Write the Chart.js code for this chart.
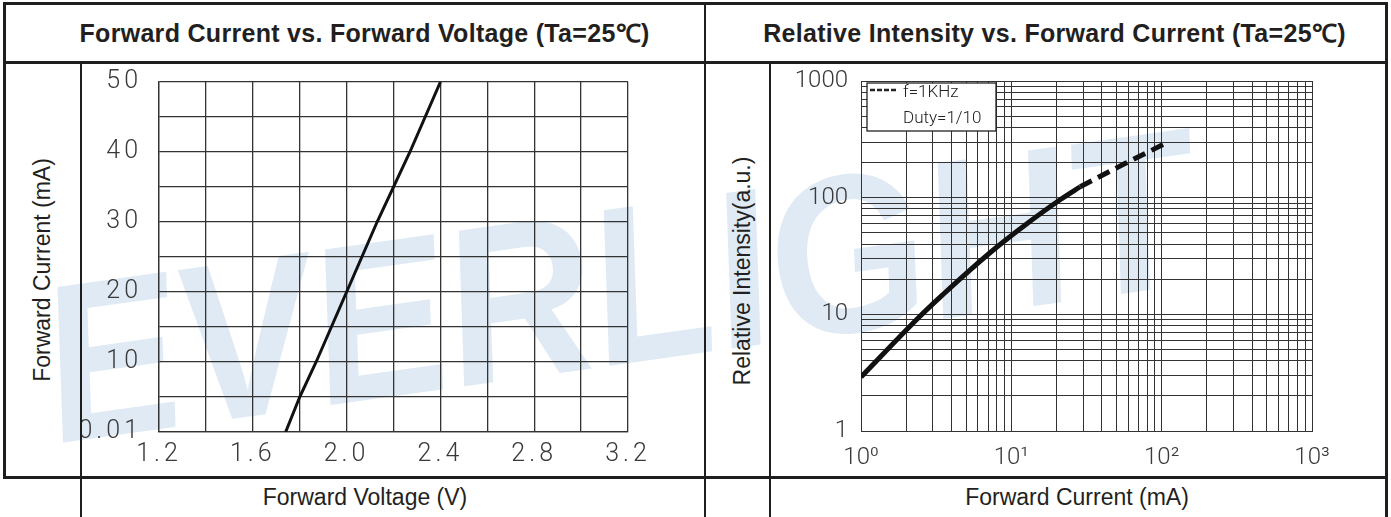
<!DOCTYPE html>
<html>
<head>
<meta charset="utf-8">
<script src="https://cdn.jsdelivr.net/npm/chart.js"></script>
<style>
html, body { margin: 0; padding: 0; background: #fff; }
body { width: 1391px; height: 517px; position: relative; overflow: hidden; font-family: "Liberation Sans", Arial, sans-serif; color: #231f20; }
.ln { position: absolute; background: #1e1e1e; }
.t { position: absolute; white-space: nowrap; }
.title { font-weight: bold; font-size: 25px; line-height: 25px; letter-spacing: 0.3px; top: 21px; text-align: center; }
.axis { font-size: 23px; }
.rot { transform: translate(-50%, -50%) rotate(-90deg); }
#wm { position: absolute; left: 60px; top: 250px; font: italic bold 225px "Liberation Sans", Arial, sans-serif; line-height: 230px; color: #dfeaf5; white-space: nowrap; transform-origin: 0px 195px; transform: rotate(-8deg) skewX(4deg) scaleX(0.9); }
canvas { position: absolute; }
</style>
</head>
<body>
<div id="wm">EVERLIGHT</div>

<div class="ln" style="left:3px;top:2px;width:1385px;height:3px"></div>
<div class="ln" style="left:3px;top:61px;width:1385px;height:3px"></div>
<div class="ln" style="left:3px;top:476px;width:1385px;height:3px"></div>
<div class="ln" style="left:3px;top:2px;width:3px;height:477px"></div>
<div class="ln" style="left:80px;top:63px;width:2px;height:454px"></div>
<div class="ln" style="left:704px;top:2px;width:2px;height:515px"></div>
<div class="ln" style="left:769px;top:63px;width:2px;height:454px"></div>
<div class="ln" style="left:1385px;top:2px;width:3px;height:515px"></div>

<div class="t title" style="left:24px;width:681px">Forward Current vs. Forward Voltage (Ta=25℃)</div>
<div class="t title" style="left:724px;width:661px">Relative Intensity vs. Forward Current (Ta=25℃)</div>
<div class="t axis rot" style="left:42px;top:270px">Forward Current (mA)</div>
<div class="t axis rot" style="left:742px;top:271px">Relative Intensity(a.u.)</div>
<div class="t axis" style="left:82px;width:566px;top:484px;text-align:center">Forward Voltage (V)</div>
<div class="t axis" style="left:771px;width:612px;top:484px;text-align:center">Forward Current (mA)</div>

<canvas id="vfChart" width="623" height="412" style="left:82px;top:64px"></canvas>
<canvas id="ivChart" width="614" height="412" style="left:771px;top:64px"></canvas>

<script>
// Forward Current vs. Forward Voltage
const vfVolts = [1.74, 1.80, 1.87, 2.00, 2.13, 2.27, 2.40];
const vfCurrent = [0, 5, 10, 20, 30, 40, 50];
const vfXTicks = [1.2, 1.6, 2.0, 2.4, 2.8, 3.2];
const vfXLabels = ['1.2', '1.6', '2.0', '2.4', '2.8', '3.2'];
const vfYTicks = [0, 10, 20, 30, 40, 50];
const vfYLabels = ['0.01', '10', '20', '30', '40', '50'];

// Relative Intensity vs. Forward Current
const ivCurrent = [1, 2.42, 3.51, 5.33, 8.02, 12.0, 21.1, 28.7];
const ivIntensity = [2.9, 9.4, 14.8, 24.1, 37.8, 56.7, 96, 124];
const ivPulseCurrent = [28.7, 57, 107];
const ivPulseIntensity = [124, 196, 294];
const ivXTicks = [1, 10, 100, 1000];
const ivXLabels = ['10⁰', '10¹', '10²', '10³'];
const ivYTicks = [1, 10, 100, 1000];
const ivYLabels = ['1', '10', '100', '1000'];
const ivLegendLines = ['f=1KHz', 'Duty=1/10'];

const gridColor = '#333';
const tickColor = '#3a3a3a';

function labelFor(ticks, labels, v) {
    for (let i = 0; i < ticks.length; i++) {
        if (Math.abs(ticks[i] - v) < 1e-6 * Math.max(1, Math.abs(v))) return labels[i];
    }
    return '';
}

function toPoints(xs, ys) {
    return xs.map((x, i) => ({ x: x, y: ys[i] }));
}

// keep tick label overhang from pushing the plot area around
function fixSize(prop, size) {
    return s => {
        s[prop] = size;
        s.paddingTop = 0; s.paddingBottom = 0;
        s.paddingLeft = 0; s.paddingRight = 0;
    };
}

// 1..9 x each decade, like log paper
const logGrid = [];
[1, 10, 100].forEach(d => { for (let m = 1; m < 10; m++) logGrid.push(m * d); });
logGrid.push(1000);

const vfCtx = document.getElementById('vfChart').getContext('2d');
const vfChart = new Chart(vfCtx, {
    type: 'scatter',
    data: {
        datasets: [{
            data: toPoints(vfVolts, vfCurrent),
            showLine: true,
            borderColor: '#111',
            borderWidth: 3,
            pointRadius: 0
        }]
    },
    options: {
        responsive: false,
        animation: false,
        layout: { padding: { left: 0, top: 18, right: 77, bottom: 0 } },
        plugins: { legend: { display: false }, tooltip: { enabled: false } },
        scales: {
            x: {
                type: 'linear', min: 1.2, max: 3.2,
                grid: { color: gridColor, lineWidth: 1.3, drawTicks: false },
                border: { color: gridColor, width: 1.3 },
                afterFit: fixSize('height', 44),
                ticks: {
                    stepSize: 0.2, autoSkip: false, maxRotation: 0, padding: 8,
                    color: tickColor, font: { family: 'Roboto', weight: '300', size: 25 },
                    callback: v => labelFor(vfXTicks, vfXLabels, v)
                }
            },
            y: {
                type: 'linear', min: 0, max: 50,
                grid: { color: gridColor, lineWidth: 1.3, drawTicks: false },
                border: { color: gridColor, width: 1.3 },
                afterFit: fixSize('width', 77),
                ticks: {
                    stepSize: 5, autoSkip: false, padding: 17,
                    color: tickColor, font: { family: 'Roboto', weight: '300', size: 25 },
                    callback: v => labelFor(vfYTicks, vfYLabels, v)
                }
            }
        }
    },
    plugins: [{
        id: 'spacing',
        beforeDraw: chart => { chart.ctx.letterSpacing = '4px'; }
    }]
});

const ivLegend = {
    id: 'ivLegend',
    afterDraw(chart) {
        const ctx = chart.ctx;
        const a = chart.chartArea;
        const bx = a.left + 6, by = a.top + 2;
        ctx.save();
        ctx.fillStyle = '#fff';
        ctx.strokeStyle = '#222';
        ctx.lineWidth = 1.3;
        ctx.fillRect(bx, by, 129, 48);
        ctx.strokeRect(bx, by, 129, 48);
        ctx.beginPath();
        ctx.setLineDash([5, 2]);
        ctx.lineWidth = 2.5;
        ctx.moveTo(bx + 3, by + 7);
        ctx.lineTo(bx + 30, by + 7);
        ctx.stroke();
        ctx.setLineDash([]);
        ctx.fillStyle = '#222';
        ctx.font = '300 17px Roboto';
        ctx.textBaseline = 'middle';
        ctx.fillText(ivLegendLines[0], bx + 36, by + 10);
        ctx.fillText(ivLegendLines[1], bx + 36, by + 36);
        ctx.restore();
    }
};

const ivCtx = document.getElementById('ivChart').getContext('2d');
const ivChart = new Chart(ivCtx, {
    type: 'scatter',
    data: {
        datasets: [{
            data: toPoints(ivCurrent, ivIntensity),
            showLine: true,
            borderColor: '#111',
            borderWidth: 5,
            pointRadius: 0,
            cubicInterpolationMode: 'monotone'
        }, {
            data: toPoints(ivPulseCurrent, ivPulseIntensity),
            showLine: true,
            borderColor: '#111',
            borderWidth: 5,
            borderDash: [13, 7],
            pointRadius: 0
        }]
    },
    options: {
        responsive: false,
        animation: false,
        layout: { padding: { left: 0, top: 17, right: 73, bottom: 0 } },
        plugins: { legend: { display: false }, tooltip: { enabled: false } },
        scales: {
            x: {
                type: 'logarithmic', min: 1, max: 1000,
                grid: { color: gridColor, lineWidth: 1, drawTicks: false },
                border: { color: gridColor, width: 1 },
                afterBuildTicks: s => { s.ticks = logGrid.map(v => ({ value: v })); },
                afterFit: fixSize('height', 45),
                ticks: {
                    autoSkip: false, maxRotation: 0, padding: 13,
                    color: tickColor, font: { family: 'Roboto', weight: '300', size: 24 },
                    callback: v => labelFor(ivXTicks, ivXLabels, v)
                }
            },
            y: {
                type: 'logarithmic', min: 1, max: 1000,
                grid: { color: gridColor, lineWidth: 1, drawTicks: false },
                border: { color: gridColor, width: 1 },
                afterBuildTicks: s => { s.ticks = logGrid.map(v => ({ value: v })); },
                afterFit: fixSize('width', 90),
                ticks: {
                    autoSkip: false, padding: 13,
                    color: tickColor, font: { family: 'Roboto', weight: '300', size: 24 },
                    callback: v => labelFor(ivYTicks, ivYLabels, v)
                }
            }
        }
    },
    plugins: [ivLegend]
});
</script>
</body>
</html>
